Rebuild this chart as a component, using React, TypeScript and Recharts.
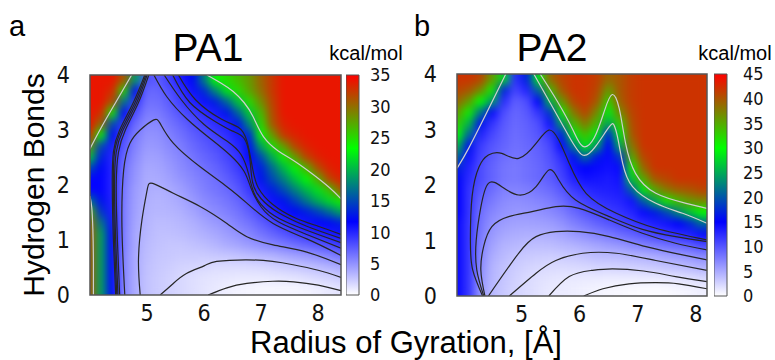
import { Bar, BarChart, ComposedChart, Line, ReferenceArea, Scatter, XAxis, YAxis } from "recharts"

const SANS = '"Liberation Sans", Arial, sans-serif'
const NARROW = '"Liberation Sans Narrow", "DejaVu Sans Condensed", "Liberation Sans", sans-serif'

// grid rows (top -> bottom), cell height 0.2 H-bonds
const rowY = [3.9, 3.7, 3.5, 3.3, 3.1, 2.9, 2.7, 2.5, 2.3, 2.1, 1.9, 1.7, 1.5, 1.3, 1.1, 0.9, 0.7, 0.5, 0.3, 0.1]
// grid columns, cell width 0.2 A
const colXA = [4.0, 4.2, 4.4, 4.6, 4.8, 5.0, 5.2, 5.4, 5.6, 5.8, 6.0, 6.2, 6.4, 6.6, 6.8, 7.0, 7.2, 7.4, 7.6, 7.8, 8.0, 8.2, 8.4]
const colXB = [3.9, 4.1, 4.3, 4.5, 4.7, 4.9, 5.1, 5.3, 5.5, 5.7, 5.9, 6.1, 6.3, 6.5, 6.7, 6.9, 7.1, 7.3, 7.5, 7.7, 7.9, 8.1]

const hbTicks = [0, 1, 2, 3, 4]
const rgTicks = [5, 6, 7, 8]
const kcalTicksA = [0, 5, 10, 15, 20, 25, 30, 35]
const kcalTicksB = [0, 5, 10, 15, 20, 25, 30, 35, 40, 45]

// PA1 free energy, kcal/mol
const energyA = [
  [34, 34, 34, 31, 19, 8, 7.5, 8.8, 10.5, 12, 17, 23.5, 25, 26.5, 28, 30.5, 32.5, 34, 34, 34, 34, 34, 34],
  [34, 34, 33, 25, 12, 7, 7, 8, 9.4, 11, 13.5, 17.5, 22, 25, 27.5, 30, 32.5, 34, 34, 34, 34, 34, 34],
  [34, 34, 31, 17, 9.5, 6.6, 6.6, 7.5, 8.8, 10, 11, 13, 16, 20.5, 25, 28.5, 32, 34, 34, 34, 34, 34, 34],
  [34, 33, 24, 11.5, 8, 6, 6.1, 6.9, 7.9, 8.8, 9.6, 10.5, 12.5, 16, 21, 26.5, 31.5, 34, 34, 34, 34, 34, 34],
  [34, 30, 15, 9.6, 6.8, 5.4, 5.5, 6.3, 7.1, 8, 8.8, 9.5, 10.2, 12.5, 18, 25, 31, 33.5, 34, 34, 34, 34, 34],
  [33, 23, 12, 8.3, 6.1, 5, 5.1, 5.8, 6.5, 7.3, 8, 8.8, 9.5, 10.5, 13.5, 23.5, 28, 32.5, 33.5, 34, 34, 34, 34],
  [28, 15, 10.5, 7.6, 5.7, 4.6, 4.8, 5.4, 6, 6.8, 7.5, 8.1, 8.9, 9.9, 12.5, 19, 24.5, 28, 32, 33.5, 34, 34, 34],
  [21, 13, 10, 7, 5.3, 4.3, 4.4, 5, 5.6, 6.3, 7, 7.6, 8.4, 9.4, 11.5, 15, 19.5, 24, 28, 32, 33.5, 34, 34],
  [15, 12, 10, 6.5, 5, 4, 4.1, 4.6, 5.3, 5.9, 6.5, 7.1, 7.9, 8.9, 10.5, 13, 16.5, 20, 23, 27, 31.5, 33.5, 34],
  [11.5, 11.5, 10, 6.3, 4.8, 3.8, 3.9, 4.3, 4.9, 5.5, 6.1, 6.6, 7.3, 8.3, 9.5, 12.5, 15, 17.5, 20.5, 23, 27, 32, 33.5],
  [11.5, 11.5, 10, 6.1, 4.5, 3.8, 3.6, 3.9, 4.4, 5.1, 5.8, 6.3, 6.8, 7.6, 9, 10.5, 13, 15, 17.5, 20, 22, 26, 31],
  [17, 12.5, 10.2, 6, 4.4, 3.6, 3.4, 3.6, 4, 4.6, 5.3, 5.8, 6.3, 7, 8.1, 9.5, 11, 12.5, 14.5, 17, 19.5, 21.5, 24],
  [27, 14, 10.5, 5.9, 4.3, 3.5, 3.3, 3.4, 3.6, 4.1, 4.8, 5.3, 5.8, 6.4, 7.3, 8.5, 9.8, 11, 12, 13, 14.5, 16.5, 19],
  [30, 17, 11, 5.9, 4.1, 3.4, 3, 3.1, 3.3, 3.6, 4.1, 4.6, 5.1, 5.8, 6.4, 7.3, 8.3, 9.3, 10.2, 11, 11.5, 12, 13],
  [31, 19, 11.5, 5.8, 4, 3.3, 2.9, 2.9, 3, 3.3, 3.6, 4, 4.5, 5, 5.6, 6.3, 7, 7.8, 8.5, 9.3, 10, 10.5, 11],
  [31, 19, 11.5, 5.8, 4, 3.1, 2.8, 2.6, 2.6, 2.8, 3, 3.4, 3.8, 4.1, 4.6, 5.1, 5.6, 6.1, 6.6, 7.1, 7.6, 8.3, 9],
  [31, 19, 11.5, 5.6, 3.9, 3, 2.6, 2.5, 2.4, 2.4, 2.4, 2.5, 2.6, 2.8, 3, 3.3, 3.5, 3.9, 4.3, 4.6, 5.1, 5.6, 6.3],
  [31, 19, 11.5, 5.6, 3.9, 2.9, 2.5, 2.3, 2, 1.9, 1.8, 1.6, 1.6, 1.6, 1.7, 1.8, 2, 2.3, 2.5, 2.8, 3.1, 3.5, 3.9],
  [31, 19, 11.5, 5.5, 3.8, 2.8, 2.4, 2.1, 1.8, 1.5, 1.3, 1.2, 1.1, 1, 1, 1, 1.1, 1.2, 1.3, 1.5, 1.8, 2, 2.4],
  [31, 19, 11.5, 5.5, 3.8, 2.8, 2.4, 2.1, 1.8, 1.5, 1.25, 1, 0.75, 0.55, 0.45, 0.4, 0.4, 0.4, 0.45, 0.55, 0.75, 1, 1.25],
]

// PA2 free energy, kcal/mol
const energyB = [
  [42, 42, 41, 36, 28, 12.5, 17, 29, 39, 41, 42, 42, 41.5, 39, 40, 41.5, 42, 42, 42, 42, 42, 42],
  [41, 40, 37, 31, 17, 11, 13, 21, 34, 40, 42, 42, 41, 36, 40, 41.5, 42, 42, 42, 42, 42, 42],
  [39, 36, 30, 24, 12.5, 9.5, 10.5, 15, 26, 36, 41, 42, 40, 33, 39.5, 41.5, 42, 42, 42, 42, 42, 42],
  [36, 31, 22, 14.5, 10.5, 9, 9.8, 12, 18, 31, 38, 41, 37, 29, 37, 41, 42, 42, 42, 42, 42, 42],
  [33, 26, 16, 12, 9.8, 8.8, 9.4, 10.5, 14, 24, 34, 38, 34, 25, 33, 40.5, 42, 42, 42, 42, 42, 42],
  [30, 21, 13, 10.8, 9.5, 8.6, 9.2, 10, 12, 17, 29, 34, 29, 17, 29, 40, 42, 42, 42, 42, 42, 42],
  [26, 16, 11.5, 10, 9.2, 8.4, 8.9, 9.5, 10.8, 14.5, 22, 29, 24, 15, 25, 38, 42, 42, 42, 42, 42, 42],
  [21, 14, 11, 9.6, 8.6, 8.1, 8.6, 9.2, 10.3, 12.5, 16, 21, 16.5, 14.5, 18, 35, 41, 42, 42, 42, 42, 42],
  [17, 13, 10.5, 9.2, 8.2, 7.9, 8.4, 8.9, 9.8, 11.5, 14, 15, 14.5, 14, 14.5, 31, 39, 42, 42, 42, 42, 42],
  [15.5, 12.5, 10.5, 9.2, 8.2, 7.9, 8.4, 8.9, 9.6, 11, 13, 14, 13.8, 13.5, 14, 27, 35, 40, 41, 42, 42, 42],
  [15, 12, 9.8, 8.6, 7.5, 7.3, 7.6, 8.1, 8.7, 9.8, 11.5, 12.5, 13, 13.2, 13.5, 20, 29, 35, 38, 39.5, 40, 41],
  [15, 12, 9.1, 7.8, 6.9, 6.6, 6.8, 7.2, 7.7, 8.7, 10.2, 11.2, 12, 12.4, 12.8, 14, 20, 25, 31, 34, 36, 37],
  [15, 12, 8.5, 7.1, 6.4, 6.1, 6.2, 6.5, 6.9, 7.6, 8.8, 9.9, 10.8, 11.4, 12, 12.8, 14.5, 16.5, 19, 23, 27, 30],
  [14.5, 11.8, 8.2, 6.5, 5.8, 5.5, 5.5, 5.6, 5.8, 6.5, 7.4, 8.3, 9.2, 10, 10.8, 11.6, 12.5, 13.3, 14, 15, 17, 21],
  [14.5, 11.8, 7.8, 6, 5.2, 4.8, 4.7, 4.7, 4.9, 5.3, 6, 6.6, 7.3, 7.9, 8.6, 9.3, 10.1, 11, 11.8, 12.5, 13.2, 14.5],
  [14.5, 11.8, 7.5, 5.5, 4.5, 4.2, 3.9, 3.8, 3.9, 4.2, 4.5, 4.9, 5.3, 5.8, 6.2, 6.8, 7.3, 7.8, 8.3, 8.8, 9.5, 10.4],
  [14.5, 11.8, 7.2, 4.9, 4, 3.5, 3.1, 3, 2.9, 3, 3.2, 3.5, 3.8, 3.9, 4, 4.3, 4.5, 4.9, 5.3, 5.7, 6.2, 6.8],
  [14.5, 11.8, 6.8, 4.5, 3.6, 3, 2.6, 2.3, 2.1, 2.1, 2.2, 2.3, 2.5, 2.5, 2.6, 2.7, 2.9, 3.1, 3.4, 3.6, 4, 4.5],
  [14.5, 11.8, 6.5, 4.3, 3.4, 2.7, 2.2, 1.8, 1.6, 1.4, 1.3, 1.2, 1.2, 1.1, 1.1, 1.1, 1.2, 1.2, 1.4, 1.6, 1.8, 2.2],
  [14.5, 11.8, 6.2, 4.2, 3.2, 2.6, 2.1, 1.7, 1.3, 1.2, 1, 0.8, 0.65, 0.5, 0.4, 0.3, 0.25, 0.25, 0.3, 0.45, 0.65, 0.9],
]

type Pt = [number, number]

// black contour lines, PA1
const blackA: Pt[][] = [
  [[6.07, 0], [6.4, 0.13], [6.75, 0.21], [7.2, 0.25], [7.57, 0.24], [8.0, 0.18], [8.4, 0.08]],
  [[5.23, 0], [5.45, 0.2], [5.69, 0.39], [6.0, 0.53], [6.22, 0.61], [6.75, 0.64], [7.2, 0.61], [7.56, 0.55], [8.0, 0.45], [8.4, 0.32]],
  [[4.88, 0], [4.85, 0.64], [4.91, 1.36], [5.0, 1.9], [5.1, 2.03], [5.46, 1.85], [5.93, 1.61], [6.4, 1.3], [6.75, 1.06], [7.21, 0.91], [7.8, 0.78], [8.4, 0.55]],
  [[4.61, 0], [4.56, 1.24], [4.59, 2.27], [4.7, 2.76], [4.88, 3.0], [5.11, 3.18], [5.23, 3.12], [5.46, 2.76], [5.93, 2.33], [6.4, 1.97], [6.75, 1.67], [7.21, 1.3], [7.8, 1.02], [8.4, 0.72]],
  [[4.52, 0], [4.48, 1.0], [4.46, 2.0], [4.5, 2.6], [4.62, 3.0], [4.85, 3.5], [5.03, 4.0]],
  [[5.12, 4.0], [5.35, 3.6], [5.7, 3.2], [6.1, 2.85], [6.45, 2.55], [6.7, 2.25], [6.82, 1.95], [7.0, 1.6], [7.3, 1.33], [7.8, 1.1], [8.4, 0.85]],
  [[4.49, 0], [4.45, 1.0], [4.43, 2.0], [4.46, 2.6], [4.58, 3.0], [4.82, 3.5], [5.0, 4.0]],
  [[5.3, 4.0], [5.6, 3.55], [6.0, 3.1], [6.4, 2.8], [6.65, 2.55], [6.78, 2.2], [6.9, 1.8], [7.15, 1.5], [7.5, 1.3], [8.0, 1.1], [8.4, 0.95]],
  [[4.47, 0], [4.43, 1.0], [4.41, 2.0], [4.43, 2.6], [4.55, 3.0], [4.79, 3.5], [4.98, 4.0]],
  [[5.45, 4.0], [5.75, 3.5], [6.2, 3.15], [6.5, 2.98], [6.7, 2.85], [6.8, 2.5], [6.85, 2.05], [7.0, 1.75], [7.3, 1.5], [7.8, 1.25], [8.4, 1.03]],
  [[4.45, 0], [4.41, 1.0], [4.39, 2.0], [4.41, 2.6], [4.52, 3.0], [4.76, 3.5], [4.96, 4.0]],
  [[5.55, 4.0], [5.85, 3.55], [6.3, 3.2], [6.6, 3.05], [6.75, 2.8], [6.85, 2.3], [6.95, 1.95], [7.2, 1.65], [7.6, 1.4], [8.0, 1.25], [8.4, 1.1]],
]

// light contour lines, PA1
const greyA: Pt[][] = [
  [[4.73, 4.0], [4.45, 3.5], [4.2, 3.05], [4.02, 2.7], [4.0, 2.66]],
  [[4.0, 1.8], [4.03, 1.6], [4.05, 1.2], [4.06, 0.6], [4.06, 0]],
  [[6.05, 4.0], [6.3, 3.85], [6.51, 3.7], [6.7, 3.5], [6.86, 3.24], [7.04, 2.88], [7.3, 2.62], [7.56, 2.45], [7.9, 2.2], [8.2, 1.95], [8.4, 1.75]],
]

// black contour lines, PA2
const blackB: Pt[][] = [
  [[6.07, 0], [6.4, 0.13], [6.85, 0.22], [7.3, 0.24], [7.7, 0.22], [8.19, 0.13]],
  [[5.47, 0], [5.82, 0.35], [6.2, 0.46], [6.56, 0.49], [7.1, 0.45], [7.65, 0.35], [8.19, 0.26]],
  [[4.79, 0], [5.25, 0.41], [5.59, 0.64], [6.05, 0.77], [6.63, 0.77], [7.31, 0.64], [8.19, 0.46]],
  [[4.43, 0], [4.95, 0.77], [5.25, 1.07], [5.59, 1.16], [6.0, 1.16], [6.51, 1.07], [7.14, 0.89], [7.77, 0.74], [8.19, 0.65]],
  [[4.37, 0], [4.3, 0.47], [4.35, 0.9], [4.49, 1.25], [4.78, 1.43], [5.18, 1.52], [5.59, 1.61], [5.99, 1.58], [6.51, 1.37], [7.08, 1.13], [7.65, 0.95], [8.19, 0.83]],
  [[4.35, 0], [4.23, 0.47], [4.22, 1.0], [4.3, 1.6], [4.43, 2.03], [4.66, 1.97], [4.95, 1.82], [5.25, 1.97], [5.47, 2.27], [5.64, 2.09], [5.93, 1.73], [6.51, 1.43], [7.08, 1.2], [7.65, 1.07], [8.19, 0.98]],
  [[4.33, 0], [4.16, 0.47], [4.12, 1.0], [4.15, 1.8], [4.27, 2.33], [4.43, 2.54], [4.66, 2.57], [4.95, 2.48], [5.25, 2.75], [5.47, 2.99], [5.64, 2.81], [5.82, 2.39], [6.11, 1.85], [6.63, 1.49], [7.31, 1.22], [8.19, 1.01]],
]

// light contour lines, PA2
const greyB: Pt[][] = [
  [[4.73, 4.0], [4.4, 3.3], [4.09, 2.66], [3.89, 2.3]],
  [[5.21, 4.0], [5.53, 3.41], [5.82, 2.87], [6.05, 2.54], [6.27, 2.69], [6.51, 3.05], [6.59, 3.08], [6.65, 2.87], [6.74, 2.39], [6.91, 1.97], [7.31, 1.67], [7.77, 1.49], [8.19, 1.31]],
  [[5.32, 4.0], [5.62, 3.5], [5.88, 3.0], [6.05, 2.7], [6.25, 2.85], [6.43, 3.35], [6.56, 3.63], [6.68, 3.38], [6.79, 2.75], [6.96, 2.21], [7.31, 1.85], [7.83, 1.67], [8.19, 1.58]],
]

const CELL = 0.2
const HB_MAX = 4

// white -> blue -> green -> red, linear in RGB
function energyColor(e: number, vmax: number): string {
  const stops = [
    [255, 255, 255],
    [0, 0, 255],
    [0, 255, 0],
    [255, 0, 0],
  ]
  const f = Math.max(0, Math.min(1, e / vmax)) * 3
  const i = Math.min(2, Math.floor(f))
  const t = f - i
  const a = stops[i]
  const b = stops[i + 1]
  const c = a.map((v, k) => Math.round(v + (b[k] - v) * t))
  return `rgb(${c[0]},${c[1]},${c[2]})`
}

function toCells(cols: number[], grid: number[][]) {
  return rowY.flatMap((y, i) => cols.map((x, j) => ({ x, y, e: grid[i][j] })))
}

const toPts = (line: Pt[]) => line.map(([x, y]) => ({ x, y }))

interface PanelProps {
  id: string
  left: number
  width: number
  margin: { top: number; right: number; bottom: number; left: number }
  xDomain: [number, number]
  cols: number[]
  grid: number[][]
  vmax: number
  black: Pt[][]
  grey: Pt[][]
}

function HeatPanel({ id, left, width, margin, xDomain, cols, grid, vmax, black, grey }: PanelProps) {
  const plotW = width - margin.left - margin.right - 30
  const plotH = 360 - margin.top - margin.bottom - 30
  const cw = (plotW / (xDomain[1] - xDomain[0])) * CELL
  const ch = (plotH / HB_MAX) * CELL
  const cells = toCells(cols, grid)
  const tick = { fontSize: 23, fill: "#111", fontFamily: NARROW }

  return (
    <div style={{ position: "absolute", left, top: 0 }}>
      <ComposedChart width={width} height={360} margin={margin}>
        <defs>
          <filter id={`blur${id}`} x="-5%" y="-5%" width="110%" height="110%" colorInterpolationFilters="sRGB">
            <feGaussianBlur stdDeviation="4" />
            <feComponentTransfer>
              <feFuncA type="linear" slope="4" intercept="0" />
            </feComponentTransfer>
          </filter>
        </defs>
        <XAxis
          type="number"
          dataKey="x"
          domain={xDomain}
          allowDataOverflow
          ticks={rgTicks}
          interval={0}
          height={30}
          tickSize={0}
          tickMargin={10}
          axisLine={false}
          tickLine={false}
          tick={tick}
        />
        <YAxis
          type="number"
          dataKey="y"
          domain={[0, HB_MAX]}
          allowDataOverflow
          ticks={hbTicks}
          interval={0}
          width={30}
          tickSize={0}
          tickMargin={20}
          axisLine={false}
          tickLine={false}
          tick={tick}
        />
        <Scatter
          className={`heat${id}`}
          data={cells}
          dataKey="y"
          zIndex={50}
          isAnimationActive={false}
          shape={(p: any) => (
            <rect
              x={p.cx - cw / 2 - 0.5}
              y={p.cy - ch / 2 - 0.5}
              width={cw + 1}
              height={ch + 1}
              fill={energyColor(p.payload.e, vmax)}
            />
          )}
        />
        {grey.map((g, i) => (
          <Line
            key={`g${i}`}
            data={toPts(g)}
            dataKey="y"
            type="natural"
            stroke="#cfcfcf"
            strokeWidth={1.2}
            dot={false}
            activeDot={false}
            zIndex={650}
            isAnimationActive={false}
          />
        ))}
        {black.map((b, i) => (
          <Line
            key={`b${i}`}
            data={toPts(b)}
            dataKey="y"
            type="natural"
            stroke="#262626"
            strokeWidth={1.2}
            dot={false}
            activeDot={false}
            zIndex={660}
            isAnimationActive={false}
          />
        ))}
        <ReferenceArea
          x1={xDomain[0]}
          x2={xDomain[1]}
          y1={0}
          y2={HB_MAX}
          fill="none"
          stroke="#555"
          strokeWidth={1.5}
          zIndex={700}
        />
      </ComposedChart>
    </div>
  )
}

interface BarProps {
  id: string
  left: number
  width: number
  yWidth: number
  top: number
  bottom: number
  vmax: number
  ticks: number[]
  tickMargin: number
}

function ColorBar({ id, left, width, yWidth, top, bottom, vmax, ticks, tickMargin }: BarProps) {
  return (
    <div style={{ position: "absolute", left, top: 0 }}>
      <BarChart width={width} height={360} data={[{ k: "kcal", v: vmax }]} margin={{ top, right: 0, bottom, left: 0 }} barCategoryGap={0}>
        <defs>
          <linearGradient id={id} x1="0" y1="0" x2="0" y2="1">
            <stop offset="0" stopColor="#ff0000" />
            <stop offset="0.3333" stopColor="#00ff00" />
            <stop offset="0.6667" stopColor="#0000ff" />
            <stop offset="1" stopColor="#ffffff" />
          </linearGradient>
        </defs>
        <XAxis dataKey="k" hide />
        <YAxis
          orientation="right"
          width={yWidth}
          domain={[0, vmax]}
          ticks={ticks}
          interval={0}
          tickSize={0}
          tickMargin={tickMargin}
          axisLine={false}
          tickLine={false}
          tick={{ fontSize: 18, fill: "#111", fontFamily: NARROW }}
        />
        <Bar dataKey="v" fill={`url(#${id})`} stroke="#555" strokeWidth={1} isAnimationActive={false} />
      </BarChart>
    </div>
  )
}

export default function App() {
  return (
    <div style={{ position: "relative", width: 775, height: 360, background: "#fff", overflow: "hidden" }}>
      <style>{`body{margin:0} .heatA{filter:url(#blurA)} .heatB{filter:url(#blurB)}`}</style>
      <HeatPanel
        id="A"
        left={0}
        width={345}
        margin={{ top: 75, right: 4, bottom: 35, left: 60 }}
        xDomain={[4.0, 8.4]}
        cols={colXA}
        grid={energyA}
        vmax={35}
        black={blackA}
        grey={greyA}
      />
      <ColorBar id="cbA" left={346} width={60} yWidth={47} top={75} bottom={65} vmax={35} ticks={kcalTicksA} tickMargin={11} />
      <HeatPanel
        id="B"
        left={400}
        width={311}
        margin={{ top: 74, right: 4, bottom: 34, left: 27 }}
        xDomain={[3.89, 8.19]}
        cols={colXB}
        grid={energyB}
        vmax={45}
        black={blackB}
        grey={greyB}
      />
      <ColorBar id="cbB" left={714} width={61} yWidth={48} top={74} bottom={64} vmax={45} ticks={kcalTicksB} tickMargin={16} />
      <svg width={775} height={360} style={{ position: "absolute", left: 0, top: 0, pointerEvents: "none" }}>
        <g fontFamily={SANS} fill="#000">
          <text x={9} y={36} fontSize={29}>a</text>
          <text x={414} y={36} fontSize={29}>b</text>
          <text x={208} y={61} fontSize={39} textAnchor="middle">PA1</text>
          <text x={552} y={61} fontSize={39} textAnchor="middle">PA2</text>
          <text x={366} y={60} fontSize={20} textAnchor="middle">kcal/mol</text>
          <text x={735} y={60} fontSize={20} textAnchor="middle">kcal/mol</text>
          <text transform="translate(44,185) rotate(-90)" fontSize={30} textAnchor="middle">Hydrogen Bonds</text>
          <text x={406} y={353} fontSize={31} textAnchor="middle">Radius of Gyration, [Å]</text>
        </g>
      </svg>
    </div>
  )
}
